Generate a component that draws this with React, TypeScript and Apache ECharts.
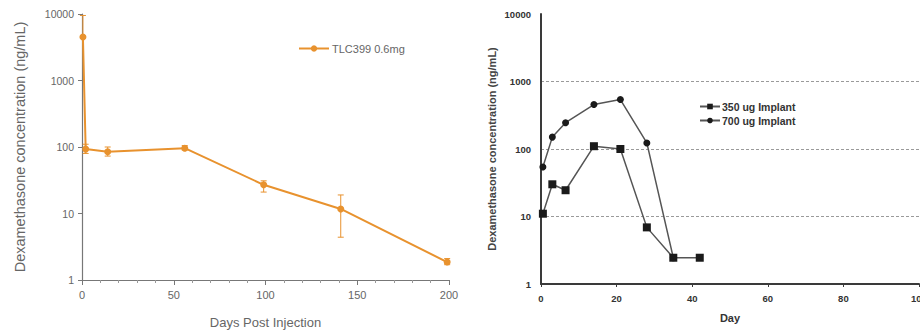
import React, { useEffect, useRef } from "react";
import * as echarts from "echarts";

// Left chart: TLC399 0.6mg
const tlcDays = [0.5, 2, 14, 56, 99, 141, 199];
const tlcConc = [4500, 93, 85, 96, 27, 11.7, 1.86];
const tlcLow = [4500, 80, 73, 90, 21, 4.4, 1.7];
const tlcHigh = [9500, 110, 100, 105, 31, 19, 2.1];

// Right chart: implants
const implant350Days = [0.5, 3, 6.5, 14, 21, 28, 35, 42];
const implant350Conc = [11, 30, 24.5, 110, 100, 6.9, 2.45, 2.45];
const implant700Days = [0.5, 3, 6.5, 14, 21, 28, 35];
const implant700Conc = [54, 150, 245, 455, 540, 123, 2.45];

const leftXTicks = [0, 50, 100, 150, 200];
const rightXTicks = [0, 20, 40, 60, 80, 100];

const ORANGE = "#E8922E";
const DARK = "#3a3a3a";

export default function App() {
  const ref = useRef<HTMLDivElement>(null);
  useEffect(() => {
    if (!ref.current) return;
    const chart = echarts.init(ref.current, undefined, { renderer: "svg" });
    const fmtLog = (v: number) => String(Math.round(v));
    const option: any = {
      animation: false,
      backgroundColor: "#ffffff",
      textStyle: { fontFamily: "Liberation Sans, Arial, sans-serif" },
      grid: [
        { left: 82, top: 14, width: 367, height: 266, outerBoundsMode: "none", containLabel: false },
        { left: 541, top: 14, right: 1, height: 270, outerBoundsMode: "none", containLabel: false },
      ],
      legend: [
        {
          data: ["TLC399 0.6mg"],
          left: 293,
          top: 38,
          itemWidth: 30,
          itemHeight: 8,
          itemGap: 4,
          textStyle: { fontSize: 11, color: "#666", padding: [0, 0, 0, -2] },
        },
        {
          data: ["350 ug Implant", "700 ug Implant"],
          orient: "vertical",
          left: 694,
          top: 96,
          itemWidth: 20,
          itemHeight: 7,
          itemGap: 3,
          textStyle: { fontSize: 10.5, fontWeight: "bold", color: "#333", padding: [0, 0, 0, -3] },
        },
      ],
      xAxis: [
        {
          gridIndex: 0,
          type: "value",
          min: leftXTicks[0],
          max: leftXTicks[leftXTicks.length - 1],
          interval: 50,
          name: "Days Post Injection",
          nameLocation: "middle",
          nameGap: 36,
          nameTextStyle: { fontSize: 13, color: "#666" },
          axisLine: { show: true, lineStyle: { color: "#777", width: 1.2 } },
          axisTick: { show: true, length: 5, lineStyle: { color: "#777" } },
          minorTick: { show: true, splitNumber: 5, length: 3, lineStyle: { color: "#999" } },
          axisLabel: { fontSize: 11, color: "#666", margin: 9 },
          splitLine: { show: false },
        },
        {
          gridIndex: 1,
          type: "value",
          min: rightXTicks[0],
          max: rightXTicks[rightXTicks.length - 1],
          interval: 20,
          name: "Day",
          nameLocation: "middle",
          nameGap: 28,
          nameTextStyle: { fontSize: 11, fontWeight: "bold", color: "#333" },
          axisLine: { show: true, lineStyle: { color: DARK, width: 2 } },
          axisTick: { show: true, length: 3, lineStyle: { color: DARK } },
          axisLabel: { fontSize: 9.5, fontWeight: "bold", color: "#333", margin: 9 },
          splitLine: { show: false },
        },
      ],
      yAxis: [
        {
          gridIndex: 0,
          type: "log",
          logBase: 10,
          min: 1,
          max: 10000,
          name: "Dexamethasone concentration (ng/mL)",
          nameLocation: "middle",
          nameGap: 55,
          nameTextStyle: { fontSize: 14.5, color: "#666" },
          axisLine: { show: true, lineStyle: { color: "#777", width: 1.2 } },
          axisTick: { show: true, length: 4, lineStyle: { color: "#777" } },
          axisLabel: { fontSize: 10.5, color: "#666", margin: 8, formatter: fmtLog },
          splitLine: { show: false },
        },
        {
          gridIndex: 1,
          type: "log",
          logBase: 10,
          min: 1,
          max: 10000,
          name: "Dexamethasone concentration (ng/mL)",
          nameLocation: "middle",
          nameGap: 44,
          nameTextStyle: { fontSize: 11, fontWeight: "bold", color: "#444" },
          axisLine: { show: true, lineStyle: { color: DARK, width: 2 } },
          axisTick: { show: false },
          axisLabel: { fontSize: 9.5, fontWeight: "bold", color: "#333", margin: 10, formatter: fmtLog },
          splitLine: {
            show: true,
            showMinLine: false,
            showMaxLine: false,
            lineStyle: { color: "#9a9a9a", type: [3, 2], width: 1 },
          },
        },
      ],
      series: [
        {
          type: "custom",
          xAxisIndex: 0,
          yAxisIndex: 0,
          silent: true,
          data: tlcDays.map((d, i) => [d, tlcLow[i], tlcHigh[i]]),
          encode: { x: 0, y: [1, 2] },
          renderItem: (params: any, api: any) => {
            const x = api.value(0);
            const lo = api.coord([x, api.value(1)]);
            const hi = api.coord([x, api.value(2)]);
            const style = { stroke: ORANGE, lineWidth: 1 };
            return {
              type: "group",
              children: [
                { type: "line", shape: { x1: lo[0], y1: lo[1], x2: hi[0], y2: hi[1] }, style },
                { type: "line", shape: { x1: lo[0] - 3, y1: lo[1], x2: lo[0] + 3, y2: lo[1] }, style },
                { type: "line", shape: { x1: hi[0] - 3, y1: hi[1], x2: hi[0] + 3, y2: hi[1] }, style },
              ],
            };
          },
        },
        {
          name: "TLC399 0.6mg",
          type: "line",
          xAxisIndex: 0,
          yAxisIndex: 0,
          data: tlcDays.map((d, i) => [d, tlcConc[i]]),
          symbol: "circle",
          symbolSize: 7,
          itemStyle: { color: ORANGE },
          lineStyle: { color: ORANGE, width: 2 },
        },
        {
          name: "350 ug Implant",
          type: "line",
          xAxisIndex: 1,
          yAxisIndex: 1,
          data: implant350Days.map((d, i) => [d, implant350Conc[i]]),
          symbol: "rect",
          symbolSize: 8,
          itemStyle: { color: "#1a1a1a" },
          lineStyle: { color: "#555", width: 1.5 },
        },
        {
          name: "700 ug Implant",
          type: "line",
          xAxisIndex: 1,
          yAxisIndex: 1,
          data: implant700Days.map((d, i) => [d, implant700Conc[i]]),
          symbol: "circle",
          symbolSize: 7,
          itemStyle: { color: "#1a1a1a" },
          lineStyle: { color: "#555", width: 1.5 },
        },
      ],
    };
    chart.setOption(option);
    return () => chart.dispose();
  }, []);
  return (
    <div
      ref={ref}
      style={{ position: "fixed", left: 0, top: 0, width: 920, height: 333 }}
    />
  );
}
